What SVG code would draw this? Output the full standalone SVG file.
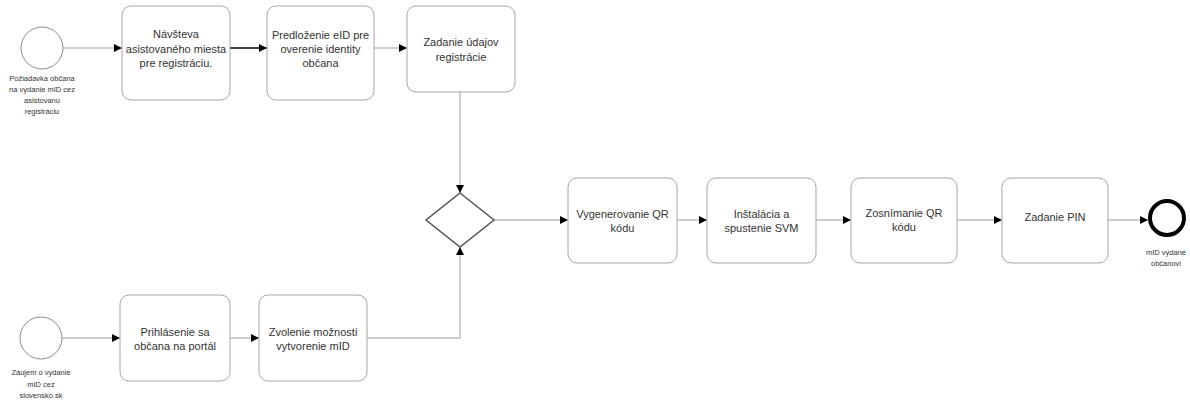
<svg xmlns="http://www.w3.org/2000/svg" width="1190" height="402" viewBox="0 0 1190 402">
<defs>
<style>
.task{fill:#fff;stroke:#a6a6a6;stroke-width:1}
.lbl{font-family:"Liberation Sans",Arial,sans-serif;font-size:11px;fill:#333;text-anchor:middle}
.sm{font-family:"Liberation Sans",Arial,sans-serif;font-size:7.5px;fill:#333;text-anchor:middle}
.flow{fill:none;stroke:#a0a0a0;stroke-width:1;marker-end:url(#ah)}
.start{fill:#fff;stroke:#8c8c8c;stroke-width:1}
</style>
<marker id="ah" viewBox="0 0 10 10" refX="10" refY="5" markerWidth="8" markerHeight="8" markerUnits="userSpaceOnUse" orient="auto">
<path d="M0,0 L10,5 L0,10 z" fill="#000"/>
</marker>
</defs>
<rect width="1190" height="402" fill="#fff"/>
<g id="connectors">
<path class="flow" d="M63,48 H122"/>
<path class="flow" d="M230,48 H267" style="stroke:#000;stroke-width:1.5"/>
<path class="flow" d="M374,48 H407"/>
<path class="flow" d="M460,92 V193"/>
<path class="flow" d="M62,338 H120"/>
<path class="flow" d="M230,338 H259"/>
<path class="flow" d="M367,338 H460 V247"/>
<path class="flow" d="M494,220 H568"/>
<path class="flow" d="M677,220 H707"/>
<path class="flow" d="M816,220 H851"/>
<path class="flow" d="M957,220 H1002"/>
<path class="flow" d="M1108,220 H1148"/>
</g>
<g id="start1">
<circle class="start" cx="42" cy="48" r="21"/>
<text class="sm" x="42" y="81">Požiadavka občana</text>
<text class="sm" x="42" y="92">na vydanie mID cez</text>
<text class="sm" x="42" y="103">asistovanú</text>
<text class="sm" x="42" y="114">registráciu</text>
</g>
<g id="task1">
<rect class="task" x="122" y="6" width="108" height="94" rx="9"/>
<text class="lbl" x="176" y="38">Návšteva</text>
<text class="lbl" x="176" y="53">asistovaného miesta</text>
<text class="lbl" x="176" y="67">pre registráciu.</text>
</g>
<g id="task2">
<rect class="task" x="267" y="6" width="107" height="94" rx="9"/>
<text class="lbl" x="320.5" y="39">Predloženie eID pre</text>
<text class="lbl" x="320.5" y="53">overenie identity</text>
<text class="lbl" x="320.5" y="67">občana</text>
</g>
<g id="task3">
<rect class="task" x="407" y="6" width="108" height="86" rx="9"/>
<text class="lbl" x="461" y="46">Zadanie údajov</text>
<text class="lbl" x="461" y="61">registrácie</text>
</g>
<g id="gateway">
<path d="M460,193 L494,220 L460,247 L426,220 z" fill="#fff" stroke="#555" stroke-width="1.5"/>
</g>
<g id="task4">
<rect class="task" x="568" y="178" width="109" height="85" rx="9"/>
<text class="lbl" x="622.5" y="218">Vygenerovanie QR</text>
<text class="lbl" x="622.5" y="232">kódu</text>
</g>
<g id="task5">
<rect class="task" x="707" y="178" width="109" height="85" rx="9"/>
<text class="lbl" x="761.5" y="218">Inštalácia a</text>
<text class="lbl" x="761.5" y="232">spustenie SVM</text>
</g>
<g id="task6">
<rect class="task" x="851" y="178" width="106" height="85" rx="9"/>
<text class="lbl" x="904" y="217">Zosnímanie QR</text>
<text class="lbl" x="904" y="231">kódu</text>
</g>
<g id="task7">
<rect class="task" x="1002" y="178" width="106" height="85" rx="9"/>
<text class="lbl" x="1055" y="221">Zadanie PIN</text>
</g>
<g id="end">
<circle cx="1167" cy="218" r="17" fill="#fff" stroke="#000" stroke-width="4"/>
<text class="sm" x="1166" y="255">mID vydané</text>
<text class="sm" x="1166" y="266">občanovi</text>
</g>
<g id="start2">
<circle class="start" cx="41" cy="338" r="21"/>
<text class="sm" x="41" y="375">Záujem o vydanie</text>
<text class="sm" x="41" y="387">mID cez</text>
<text class="sm" x="41" y="398">slovensko.sk</text>
</g>
<g id="task8">
<rect class="task" x="120" y="295" width="110" height="86" rx="9"/>
<text class="lbl" x="175" y="336">Prihlásenie sa</text>
<text class="lbl" x="175" y="350">občana na portál</text>
</g>
<g id="task9">
<rect class="task" x="259" y="295" width="108" height="86" rx="9"/>
<text class="lbl" x="313" y="336">Zvolenie možnosti</text>
<text class="lbl" x="313" y="350">vytvorenie mID</text>
</g>
</svg>
